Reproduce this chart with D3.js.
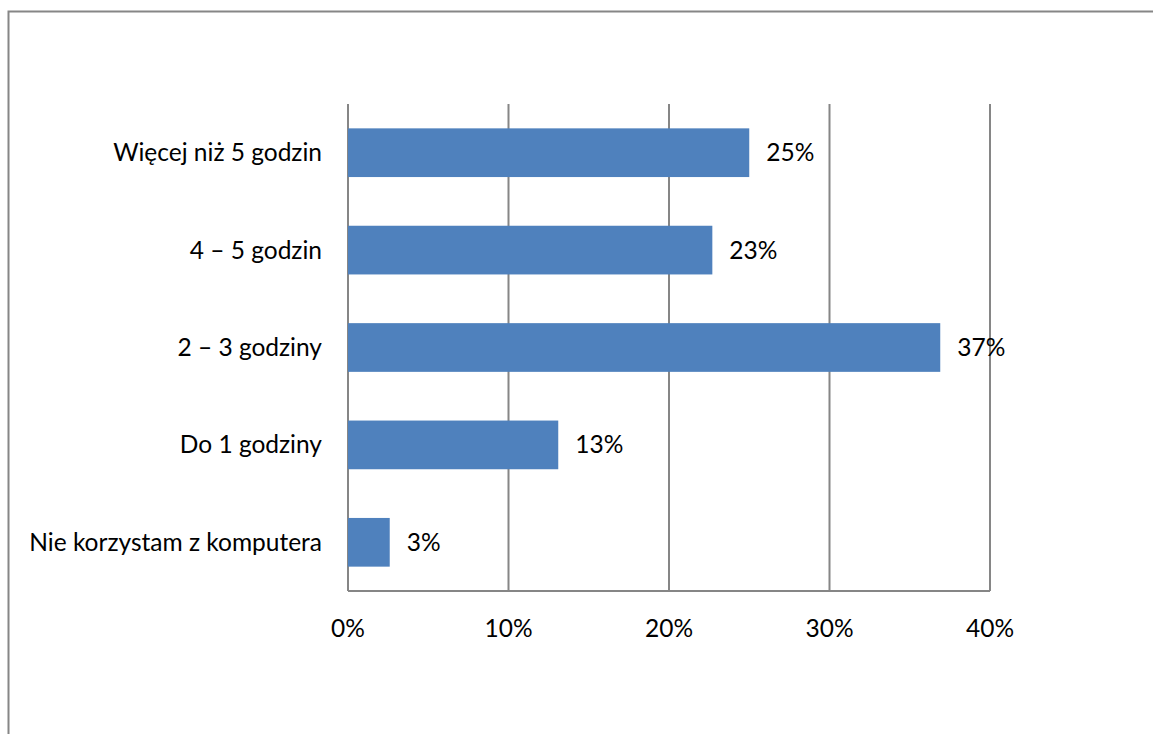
<!DOCTYPE html>
<html><head><meta charset="utf-8">
<script src="https://cdn.jsdelivr.net/npm/d3@7"></script>
<style>html,body{margin:0;padding:0;background:#fff;overflow:hidden;}svg{display:block;}</style>
</head><body>
<svg id="c" width="1153" height="734"></svg>
<script>
const categories = ["Więcej niż 5 godzin", "4 – 5 godzin", "2 – 3 godziny", "Do 1 godziny", "Nie korzystam z komputera"];
const values = [25.0, 22.7, 36.9, 13.1, 2.6];
const valueLabels = ["25%", "23%", "37%", "13%", "3%"];
const ticks = [0, 10, 20, 30, 40];
const tickLabels = ["0%", "10%", "20%", "30%", "40%"];

(function () {
const svg = d3.select("#c");
const font = "Lato, 'Open Sans', sans-serif";
const fs = 24.5;
const pLeft = 348, pRight = 990, pTop = 104, pBottom = 591;

// chart frame: only top and left edges are within the picture
svg.append("path").attr("d", "M8.5,740 L8.5,11.5 L1160,11.5")
  .attr("fill", "none").attr("stroke", "#868686").attr("stroke-width", 2);

const x = d3.scaleLinear().domain([0, 40]).range([pLeft, pRight]);
const y = d3.scaleBand().domain(categories).range([pTop, pBottom]).paddingInner(0.5).paddingOuter(0.25);

svg.append("g").selectAll("line").data(ticks).join("line")
  .attr("x1", d => x(d)).attr("x2", d => x(d)).attr("y1", pTop).attr("y2", pBottom)
  .attr("stroke", "#868686").attr("stroke-width", 2);
svg.append("line").attr("x1", pLeft).attr("x2", pRight).attr("y1", pBottom).attr("y2", pBottom)
  .attr("stroke", "#868686").attr("stroke-width", 2);

svg.append("g").selectAll("rect").data(values).join("rect")
  .attr("x", x(0)).attr("y", (d, i) => y(categories[i]))
  .attr("width", d => x(d) - x(0)).attr("height", y.bandwidth())
  .attr("fill", "#4F81BD");

svg.append("g").selectAll("text").data(values).join("text")
  .attr("x", d => x(d) + 17).attr("y", (d, i) => y(categories[i]) + y.bandwidth() / 2)
  .attr("dy", "0.35em").attr("font-family", font).attr("font-size", fs).attr("fill", "#000")
  .text((d, i) => valueLabels[i]);

svg.append("g").selectAll("text").data(categories).join("text")
  .attr("x", pLeft - 26).attr("y", d => y(d) + y.bandwidth() / 2)
  .attr("dy", "0.35em").attr("text-anchor", "end").attr("font-family", font).attr("font-size", fs)
  .attr("fill", "#000").text(d => d);

svg.append("g").selectAll("text").data(ticks).join("text")
  .attr("x", d => x(d)).attr("y", 628).attr("dy", "0.35em").attr("text-anchor", "middle")
  .attr("font-family", font).attr("font-size", fs).attr("fill", "#000")
  .text((d, i) => tickLabels[i]);
})();
</script>
</body></html>
